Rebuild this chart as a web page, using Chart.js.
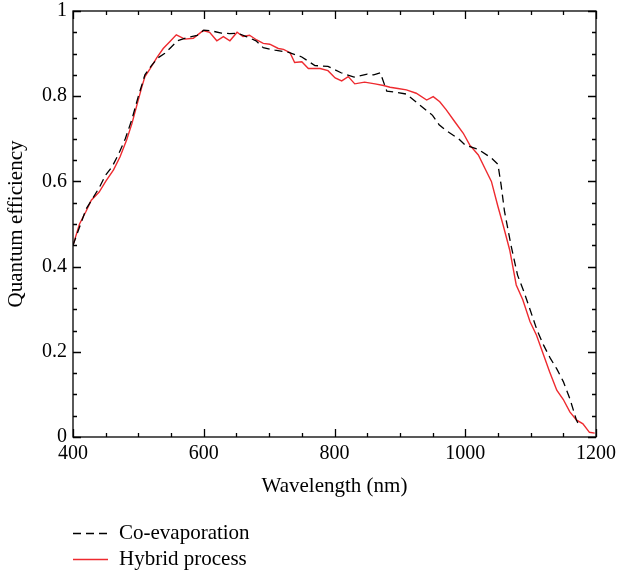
<!DOCTYPE html>
<html>
<head>
<meta charset="utf-8">
<script src="https://cdn.jsdelivr.net/npm/chart.js@4"></script>
<style>
  html, body { margin: 0; padding: 0; background: #fff; }
  #wrap { width: 617px; height: 577px; }
</style>
</head>
<body>
<div id="wrap"><canvas id="grafico" width="617" height="577"></canvas></div>
<script>
// Co-evaporation (tracejado)
var coEvapX = [400, 420, 440, 450, 460, 470, 480, 490, 500, 510, 520, 530, 540, 550, 560, 575, 590, 600, 610, 627, 640, 652, 665, 680, 691, 709, 730, 750, 770, 790, 810, 830, 850, 860, 870, 880, 890, 910, 930, 950, 960, 970, 990, 1000, 1020, 1040, 1050, 1055, 1060, 1070, 1080, 1090, 1100, 1110, 1120, 1130, 1140, 1150, 1160, 1170, 1175];
var coEvapY = [0.45, 0.535, 0.585, 0.615, 0.635, 0.665, 0.70, 0.745, 0.80, 0.85, 0.872, 0.89, 0.90, 0.915, 0.93, 0.938, 0.943, 0.955, 0.954, 0.948, 0.947, 0.948, 0.94, 0.93, 0.914, 0.908, 0.903, 0.892, 0.872, 0.87, 0.855, 0.845, 0.852, 0.85, 0.855, 0.812, 0.81, 0.805, 0.78, 0.755, 0.733, 0.72, 0.70, 0.685, 0.675, 0.655, 0.64, 0.59, 0.53, 0.45, 0.38, 0.34, 0.295, 0.25, 0.215, 0.185, 0.16, 0.13, 0.09, 0.04, 0.025];

// Hybrid process (vermelho)
var hibridoX = [400, 405, 410, 420, 428, 440, 450, 462, 472, 482, 490, 497, 505, 510, 518, 528, 538, 548, 558, 571, 584, 599, 609, 620, 630, 640, 651, 660, 670, 681, 691, 701, 714, 722, 732, 739, 750, 760, 778, 790, 801, 811, 821, 831, 846, 862, 875, 885, 897, 910, 925, 941, 951, 961, 971, 984, 997, 1007, 1020, 1030, 1040, 1050, 1058, 1068, 1078, 1088, 1099, 1109, 1119, 1129, 1140, 1150, 1160, 1170, 1180, 1190, 1198];
var hibridoY = [0.45, 0.475, 0.50, 0.53, 0.556, 0.575, 0.60, 0.627, 0.658, 0.697, 0.735, 0.775, 0.82, 0.846, 0.865, 0.89, 0.912, 0.928, 0.944, 0.934, 0.936, 0.954, 0.95, 0.93, 0.94, 0.93, 0.95, 0.94, 0.943, 0.932, 0.924, 0.922, 0.912, 0.91, 0.902, 0.879, 0.881, 0.865, 0.865, 0.86, 0.843, 0.836, 0.846, 0.829, 0.833, 0.829, 0.825, 0.821, 0.818, 0.815, 0.807, 0.791, 0.799, 0.787, 0.768, 0.74, 0.713, 0.685, 0.662, 0.631, 0.60, 0.541, 0.497, 0.439, 0.357, 0.322, 0.271, 0.239, 0.196, 0.153, 0.11, 0.088, 0.059, 0.04, 0.031, 0.011, 0.009];

var nomeSeries = ['Co-evaporation', 'Hybrid process'];
var corPreta = '#000000';
var corVermelha = '#ee2a2f';

function juntarPontos(xs, ys) {
    var pontos = [];
    for (var i = 0; i < xs.length; i++) {
        pontos.push({ x: xs[i], y: ys[i] });
    }
    return pontos;
}

Chart.defaults.font.family = "'Liberation Serif', 'DejaVu Serif', serif";
Chart.defaults.font.size = 20;
Chart.defaults.color = '#000';

// moldura + ticks para dentro (em cima, embaixo, esquerda e direita)
const molduraTicks = {
    id: 'molduraTicks',
    afterDraw(chart) {
        const ctx = chart.ctx;
        const a = chart.chartArea;
        const sx = chart.scales.x;
        const sy = chart.scales.y;
        ctx.save();
        ctx.strokeStyle = '#000';
        ctx.lineWidth = 1.3;
        ctx.strokeRect(a.left, a.top, a.right - a.left, a.bottom - a.top);
        ctx.beginPath();
        for (let v = 400; v <= 1200; v += 50) {
            const px = Math.round(sx.getPixelForValue(v)) + 0.5;
            const len = (v % 200 === 0) ? 8 : 4;
            ctx.moveTo(px, a.bottom); ctx.lineTo(px, a.bottom - len);
            ctx.moveTo(px, a.top); ctx.lineTo(px, a.top + len);
        }
        for (let i = 0; i <= 20; i++) {
            const py = Math.round(sy.getPixelForValue(i * 0.05)) + 0.5;
            const len = (i % 4 === 0) ? 8 : 4;
            ctx.moveTo(a.left, py); ctx.lineTo(a.left + len, py);
            ctx.moveTo(a.right, py); ctx.lineTo(a.right - len, py);
        }
        ctx.stroke();
        ctx.restore();
    }
};

// legenda embaixo, empilhada
const legendaEmbaixo = {
    id: 'legendaEmbaixo',
    afterDraw(chart) {
        const ctx = chart.ctx;
        const x0 = chart.chartArea.left;
        const linhas = [533, 559];
        ctx.save();
        chart.data.datasets.forEach(function (ds, i) {
            ctx.beginPath();
            ctx.strokeStyle = ds.borderColor;
            ctx.lineWidth = 1.3;
            ctx.setLineDash(ds.borderDash || []);
            ctx.moveTo(x0, linhas[i] + 0.5);
            ctx.lineTo(x0 + 35, linhas[i] + 0.5);
            ctx.stroke();
            ctx.setLineDash([]);
            ctx.fillStyle = '#000';
            ctx.font = "21px 'Liberation Serif', serif";
            ctx.textBaseline = 'middle';
            ctx.fillText(ds.label, x0 + 46, linhas[i]);
        });
        ctx.restore();
    }
};

const config = {
    type: 'line',
    data: {
        datasets: [{
            label: nomeSeries[0],
            data: juntarPontos(coEvapX, coEvapY),
            borderColor: corPreta,
            borderWidth: 1.3,
            borderDash: [8, 5],
            pointRadius: 0,
            fill: false,
            tension: 0
        }, {
            label: nomeSeries[1],
            data: juntarPontos(hibridoX, hibridoY),
            borderColor: corVermelha,
            borderWidth: 1.4,
            pointRadius: 0,
            fill: false,
            tension: 0
        }]
    },
    options: {
        responsive: false,
        animation: false,
        layout: { padding: { left: 0, right: 21, top: 11, bottom: 76 } },
        plugins: {
            legend: { display: false },
            tooltip: { enabled: false }
        },
        scales: {
            x: {
                type: 'linear',
                min: 400,
                max: 1200,
                grid: { display: false, drawTicks: false },
                border: { display: false },
                ticks: {
                    stepSize: 200, padding: 5, maxRotation: 0,
                    callback: function (valor) { return String(valor); }
                },
                title: { display: true, text: 'Wavelength (nm)', font: { size: 21 }, padding: { top: 0, bottom: 2 } },
                afterFit: function (scale) {
                    scale.height = 64;
                    scale.paddingLeft = 0;
                    scale.paddingRight = 0;
                }
            },
            y: {
                min: 0,
                max: 1,
                grid: { display: false, drawTicks: false },
                border: { display: false },
                ticks: {
                    stepSize: 0.2, padding: 6,
                    callback: function (valor) {
                        if (valor === 0 || valor === 1) return String(valor);
                        return valor.toFixed(1);
                    }
                },
                title: { display: true, text: 'Quantum efficiency', font: { size: 21 }, padding: { top: 4, bottom: 0 } },
                afterFit: function (scale) {
                    scale.width = 73;
                    scale.paddingTop = 0;
                    scale.paddingBottom = 0;
                }
            }
        }
    },
    plugins: [molduraTicks, legendaEmbaixo]
};

let meuGrafico = new Chart(document.getElementById('grafico'), config);
</script>
</body>
</html>
